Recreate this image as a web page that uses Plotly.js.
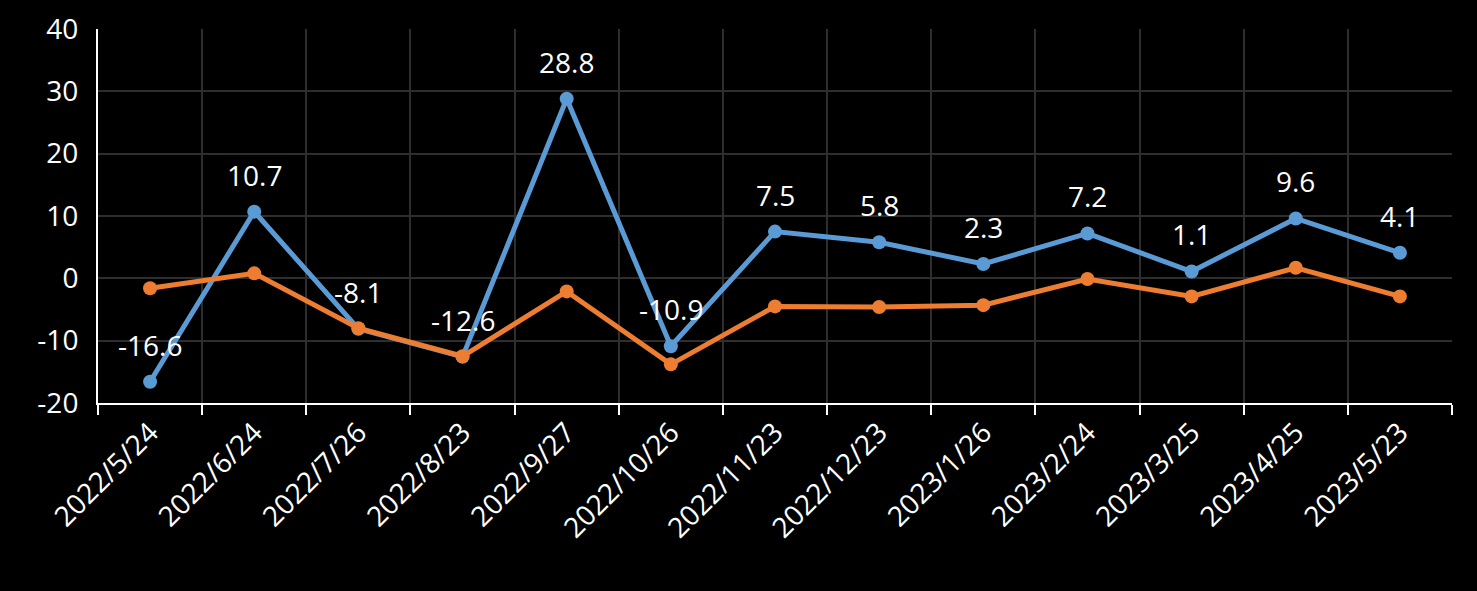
<!DOCTYPE html>
<html>
<head>
<meta charset="utf-8">
<script src="https://cdn.plot.ly/plotly-3.0.1.min.js"></script>
<style>
  html, body { margin: 0; padding: 0; background: #000; }
  #chart { width: 1477px; height: 591px; }
</style>
</head>
<body>
<div id="chart"></div>
<script>
// categories (survey dates)
const dates = ['2022/5/24', '2022/6/24', '2022/7/26', '2022/8/23', '2022/9/27', '2022/10/26',
    '2022/11/23', '2022/12/23', '2023/1/26', '2023/2/24', '2023/3/25', '2023/4/25', '2023/5/23'];

// blue series (labelled)
const blueVals = [-16.6, 10.7, -8.1, -12.6, 28.8, -10.9, 7.5, 5.8, 2.3, 7.2, 1.1, 9.6, 4.1];

// orange series (no labels)
const orangeVals = [-1.6, 0.8, -8.0, -12.5, -2.1, -13.8, -4.5, -4.6, -4.3, -0.1, -2.9, 1.7, -2.9];

const yTicks = [-20, -10, 0, 10, 20, 30, 40];
const yTickText = ['-20', '-10', '0', '10', '20', '30', '40'];

const blue = '#5B9BD5';
const orange = '#ED7D31';
const font = '"Open Sans", "Noto Sans", sans-serif';

const traceBlue = {
    x: dates,
    y: blueVals,
    type: 'scatter',
    mode: 'lines+markers',
    line: { color: blue, width: 5 },
    marker: { color: blue, size: 14 },
    cliponaxis: false
};

const traceOrange = {
    x: dates,
    y: orangeVals,
    type: 'scatter',
    mode: 'lines+markers',
    line: { color: orange, width: 5 },
    marker: { color: orange, size: 14 },
    cliponaxis: false
};

// value labels above the blue points
const labels = dates.map((d, i) => ({
    x: d,
    y: blueVals[i],
    text: blueVals[i].toFixed(1),
    showarrow: false,
    yshift: 37,
    font: { family: font, size: 28, color: '#fff' }
}));

const layout = {
    width: 1477,
    height: 591,
    paper_bgcolor: '#000',
    plot_bgcolor: '#000',
    margin: { l: 98, r: 25, t: 29, b: 188 },
    showlegend: false,
    font: { family: font, color: '#fff' },
    xaxis: {
        type: 'category',
        tickson: 'boundaries',
        ticks: 'outside',
        ticklen: 10,
        tickwidth: 2,
        tickcolor: '#fff',
        tickangle: -45,
        tickfont: { family: font, size: 28, color: '#fff' },
        showgrid: true,
        gridcolor: '#2e2e2e',
        gridwidth: 2,
        showline: true,
        linecolor: '#fff',
        linewidth: 2,
        zeroline: false,
        range: [-0.5, dates.length - 0.5]
    },
    yaxis: {
        range: [-20, 40],
        tickvals: yTicks,
        ticktext: yTickText,
        ticks: '',
        tickfont: { family: font, size: 28, color: '#fff' },
        showgrid: true,
        gridcolor: '#2e2e2e',
        gridwidth: 2,
        showline: true,
        linecolor: '#fff',
        linewidth: 2,
        zeroline: false,
        ticklabelstandoff: 12
    },
    annotations: labels
};

Plotly.newPlot('chart', [traceBlue, traceOrange], layout, { displayModeBar: false });
</script>
</body>
</html>
